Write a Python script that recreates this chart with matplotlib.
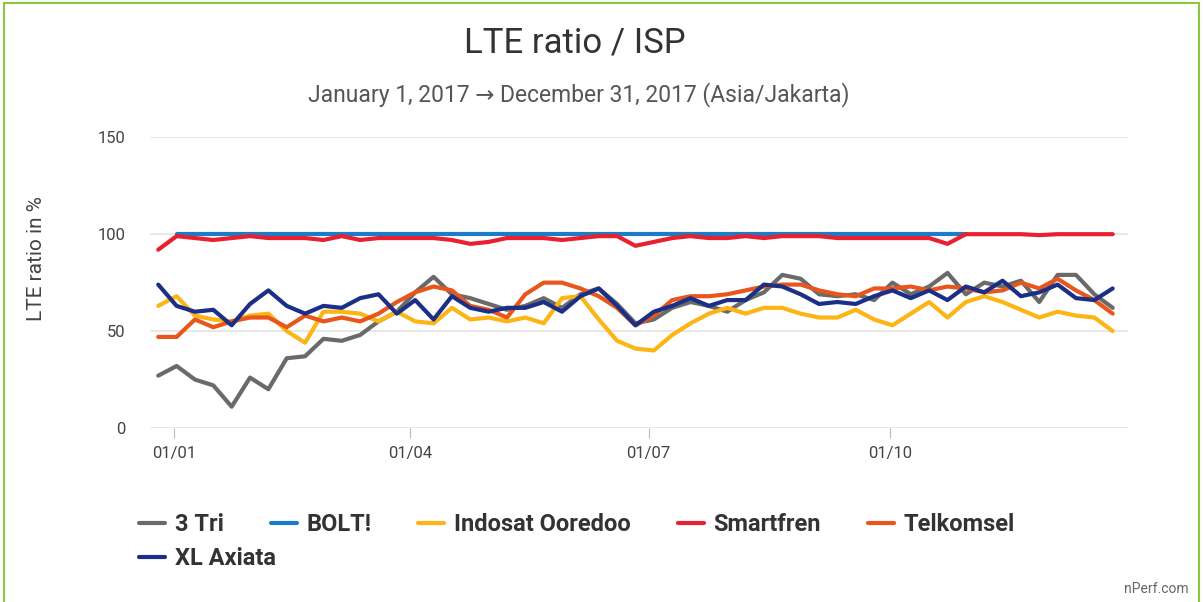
import numpy as np
import pandas as pd
import matplotlib
matplotlib.use("Agg")
import matplotlib.pyplot as plt
import matplotlib.dates as mdates
from matplotlib.patches import Rectangle

plt.rcParams['font.family'] = ['Roboto', 'DejaVu Sans']

# weekly samples, 26 Dec 2016 -> 25 Dec 2017
weeks = pd.date_range("2016-12-26", periods=53, freq="7D")

tri = [27, 32, 25, 22, 11, 26, 20, 36, 37, 46, 45, 48, 55, 60, 70, 78, 69, 67,
       64, 61, 63, 67, 62, 69, 72, 64, 54, 56, 62, 65, 63, 60, 66, 70, 79, 77,
       69, 68, 69, 66, 75, 69, 73, 80, 69, 75, 73, 76, 65, 79, 79, 69, 62]
bolt = [np.nan] + [100] * 44 + [np.nan] * 8
indosat = [63, 68, 58, 56, 55, 58, 59, 50, 44, 60, 60, 59, 55, 60, 55, 54, 62, 56,
           57, 55, 57, 54, 67, 68, 56, 45, 41, 40, 48, 54, 59, 62, 59, 62, 62, 59,
           57, 57, 61, 56, 53, 59, 65, 57, 65, 68, 65, 61, 57, 60, 58, 57, 50]
smartfren = [92, 99, 98, 97, 98, 99, 98, 98, 98, 97, 99, 97, 98, 98, 98, 98, 97, 95,
             96, 98, 98, 98, 97, 98, 99, 99, 94, 96, 98, 99, 98, 98, 99, 98, 99, 99,
             99, 98, 98, 98, 98, 98, 98, 95, 100, 100, 100, 100, 99.5, 100, 100, 100, 100]
telkomsel = [47, 47, 56, 52, 55, 57, 57, 52, 58, 55, 57, 55, 59, 65, 70, 73, 71, 63,
             61, 57, 69, 75, 75, 72, 68, 62, 53, 58, 66, 68, 68, 69, 71, 73, 74, 74,
             71, 69, 68, 72, 72, 73, 71, 73, 72, 70, 71, 75, 72, 77, 71, 66, 59]
xl = [74, 63, 60, 61, 53, 64, 71, 63, 59, 63, 62, 67, 69, 59, 66, 56, 68, 62,
      60, 62, 62, 65, 60, 68, 72, 63, 53, 60, 63, 67, 63, 66, 66, 74, 73, 69,
      64, 65, 64, 68, 71, 67, 71, 66, 73, 70, 76, 68, 70, 74, 67, 66, 72]

series = [
    ("3 Tri", tri, "#6a6a6a"),
    ("BOLT!", bolt, "#1c7cc8"),
    ("Indosat Ooredoo", indosat, "#fdb515"),
    ("Smartfren", smartfren, "#e8202f"),
    ("Telkomsel", telkomsel, "#e8561b"),
    ("XL Axiata", xl, "#1b2f86"),
]

fig = plt.figure(figsize=(12.03, 6.02), dpi=100)
ax = fig.add_axes([0.125, 0.289, 0.813, 0.483])

lines = []
for name, vals, col in series:
    ln, = ax.plot(weeks, vals, color=col, lw=3, label=name, solid_capstyle='round')
    lines.append(ln)

ax.set_ylim(0, 150)
ax.set_yticks([0, 50, 100, 150])
ax.set_xlim(pd.Timestamp("2016-12-23"), pd.Timestamp("2017-12-31"))
ax.set_xticks(pd.to_datetime(["2017-01-01", "2017-04-01", "2017-07-01", "2017-10-01"]))
ax.xaxis.set_major_formatter(mdates.DateFormatter("%d/%m"))
ax.grid(axis='y', color='#e3e3e3', lw=1.2)
ax.set_axisbelow(True)
for s in ax.spines.values():
    s.set_visible(False)
ax.tick_params(axis='y', length=0, labelsize=12, labelcolor='#444444', pad=18)
ax.tick_params(axis='x', length=7, color='#bbbbbb', labelsize=12, labelcolor='#444444', pad=6)
ax.set_ylabel("LTE ratio in %", fontsize=15, color='#444444')
ax.yaxis.set_label_coords(-0.107, 0.584)

fig.text(0.478, 0.928, "LTE ratio / ISP", ha='center', va='center', fontsize=25, color='#333333')
fig.text(0.481, 0.843, "January 1, 2017 \u2192 December 31, 2017 (Asia/Jakarta)",
         ha='center', va='center', fontsize=16.5, color='#555555')

leg1 = fig.legend(handles=lines[:5], loc='center left', bbox_to_anchor=(0.098, 0.129),
                  ncol=5, frameon=False, handlelength=1.1, handletextpad=0.4,
                  columnspacing=2.0, prop={'weight': 'bold', 'size': 17})
leg2 = fig.legend(handles=lines[5:], loc='center left', bbox_to_anchor=(0.098, 0.072),
                  frameon=False, handlelength=1.1, handletextpad=0.4,
                  prop={'weight': 'bold', 'size': 17})
for leg in (leg1, leg2):
    for t in leg.get_texts():
        t.set_color('#333333')

fig.text(0.988, 0.022, "nPerf.com", ha='right', va='center', fontsize=10, color='#666666')

fig.patches.append(Rectangle((0.003, -0.02), 0.994, 1.015, transform=fig.transFigure,
                             fill=False, edgecolor='#8cc83f', lw=1.5))

fig.savefig("out.png", dpi=100)
